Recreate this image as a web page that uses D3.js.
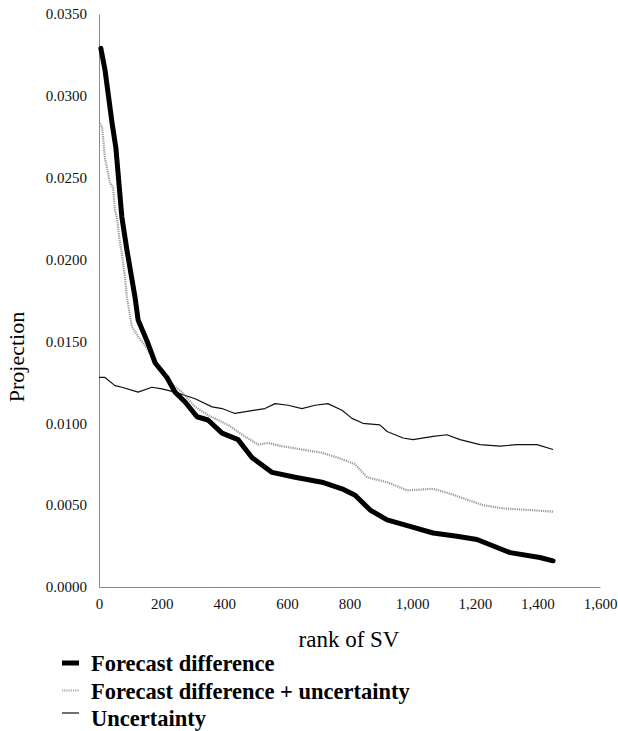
<!DOCTYPE html>
<html>
<head>
<meta charset="utf-8">
<script src="https://cdn.jsdelivr.net/npm/d3@7"></script>
</head>
<body style="margin:0; background:#fff">
<svg id="chart" width="618" height="731"></svg>
<script>
// rank of SV vs projection
var fcDiff = [
  [6, 0.0329], [19, 0.0316], [42, 0.0283], [54, 0.0268], [73, 0.0226], [89, 0.0206],
  [115, 0.0177], [125, 0.0163], [156, 0.0149], [179, 0.0137], [217, 0.0128], [243, 0.0119],
  [275, 0.0113], [313, 0.0104], [348, 0.0102], [393, 0.0094], [444, 0.0090], [489, 0.0079],
  [553, 0.0070], [626, 0.0067], [712, 0.0064], [776, 0.0060], [818, 0.0056], [866, 0.0047],
  [920, 0.0041], [993, 0.0037], [1067, 0.0033], [1143, 0.0031], [1207, 0.0029],
  [1313, 0.0021], [1408, 0.0018], [1450, 0.0016]
];

var fcDiffUnc = [
  [3, 0.0283], [10, 0.0281], [19, 0.0262], [35, 0.0247], [45, 0.0244], [51, 0.0230],
  [57, 0.0226], [67, 0.0210], [73, 0.0204], [83, 0.0189], [89, 0.0177], [105, 0.0159],
  [125, 0.0153], [156, 0.0145], [179, 0.0137], [220, 0.0126], [265, 0.0119], [307, 0.0110],
  [348, 0.0105], [412, 0.0099], [466, 0.0092], [508, 0.0087], [540, 0.0088], [584, 0.0086],
  [648, 0.0084], [712, 0.0082], [763, 0.0079], [818, 0.0075], [856, 0.0067], [920, 0.0064],
  [984, 0.0059], [1067, 0.0060], [1121, 0.0057], [1226, 0.0050], [1290, 0.0048],
  [1377, 0.0047], [1450, 0.0046]
];

var uncertainty = [
  [0, 0.0128], [19, 0.0128], [51, 0.0123], [73, 0.0122], [125, 0.0119], [169, 0.0122],
  [201, 0.0121], [243, 0.0119], [307, 0.0115], [361, 0.0110], [393, 0.0109], [434, 0.0106],
  [498, 0.0108], [530, 0.0109], [562, 0.0112], [604, 0.0111], [648, 0.0109], [690, 0.0111],
  [731, 0.0112], [776, 0.0108], [808, 0.0103], [843, 0.0100], [897, 0.0099], [920, 0.0095],
  [971, 0.0091], [1003, 0.0090], [1067, 0.0092], [1111, 0.0093], [1153, 0.0090],
  [1217, 0.0087], [1281, 0.0086], [1335, 0.0087], [1399, 0.0087], [1450, 0.0084]
];

var xTicks = [0, 200, 400, 600, 800, 1000, 1200, 1400, 1600];
var yTicks = [0, 0.005, 0.010, 0.015, 0.020, 0.025, 0.030, 0.035];

var serif = "Liberation Serif";

var svg = d3.select("#chart"),
    margin = {top: 14, right: 18, bottom: 144, left: 99},
    width = +svg.attr("width") - margin.left - margin.right,
    height = +svg.attr("height") - margin.top - margin.bottom,
    g = svg.append("g").attr("transform", "translate(" + margin.left + "," + margin.top + ")");

var x = d3.scaleLinear().domain([0, 1600]).range([0, width]);
var y = d3.scaleLinear().domain([0, 0.035]).range([height, 0]);

var line = d3.line()
    .x(function(d) { return x(d[0]); })
    .y(function(d) { return y(d[1]); });

// y axis
var yAxis = g.append("g")
    .call(d3.axisLeft(y).tickValues(yTicks).tickSize(0).tickPadding(12).tickFormat(d3.format(".4f")));
yAxis.select(".domain").attr("stroke", "#8a8a8a");
yAxis.selectAll("text").attr("font-family", serif).attr("font-size", 15).attr("fill", "#111");

// x axis
var xAxis = g.append("g")
    .attr("transform", "translate(0," + height + ")")
    .call(d3.axisBottom(x).tickValues(xTicks).tickSize(0).tickPadding(11).tickFormat(d3.format(",")));
xAxis.select(".domain").attr("stroke", "#8a8a8a");
xAxis.selectAll("text").attr("font-family", serif).attr("font-size", 15).attr("fill", "#111");

// series
g.append("path")
    .datum(uncertainty)
    .attr("fill", "none")
    .attr("stroke", "#111")
    .attr("stroke-width", 1.2)
    .attr("stroke-linejoin", "round")
    .attr("d", line);

g.append("path")
    .datum(fcDiffUnc)
    .attr("fill", "none")
    .attr("stroke", "#999")
    .attr("stroke-width", 2.2)
    .attr("stroke-dasharray", "1.2,1")
    .attr("d", line);

g.append("path")
    .datum(fcDiff)
    .attr("fill", "none")
    .attr("stroke", "#000")
    .attr("stroke-width", 5)
    .attr("stroke-linejoin", "round")
    .attr("stroke-linecap", "round")
    .attr("d", line);

// axis titles
svg.append("text")
    .attr("transform", "translate(24,357) rotate(-90)")
    .attr("text-anchor", "middle")
    .attr("font-family", serif)
    .attr("font-size", 22)
    .text("Projection");

svg.append("text")
    .attr("x", 349)
    .attr("y", 647)
    .attr("text-anchor", "middle")
    .attr("font-family", serif)
    .attr("font-size", 23)
    .text("rank of SV");

// legend
var legend = [
  {name: "Forecast difference", color: "#000", w: 5, dash: null, dy: 0},
  {name: "Forecast difference + uncertainty", color: "#aaa", w: 2, dash: "1.2,1", dy: 0},
  {name: "Uncertainty", color: "#111", w: 1.2, dash: null, dy: -5}
];

var lg = svg.append("g").attr("transform", "translate(62,663)");
var row = lg.selectAll("g").data(legend).enter().append("g")
    .attr("transform", function(d, i) { return "translate(0," + (i * 27.5) + ")"; });
row.append("line")
    .attr("x1", 0).attr("x2", 17)
    .attr("y1", function(d) { return d.dy; }).attr("y2", function(d) { return d.dy; })
    .attr("stroke", function(d) { return d.color; })
    .attr("stroke-width", function(d) { return d.w; })
    .attr("stroke-dasharray", function(d) { return d.dash; });
row.append("text")
    .attr("x", 29)
    .attr("y", 8)
    .attr("font-family", serif)
    .attr("font-size", 22.5)
    .attr("font-weight", "bold")
    .text(function(d) { return d.name; });
</script>
</body>
</html>
